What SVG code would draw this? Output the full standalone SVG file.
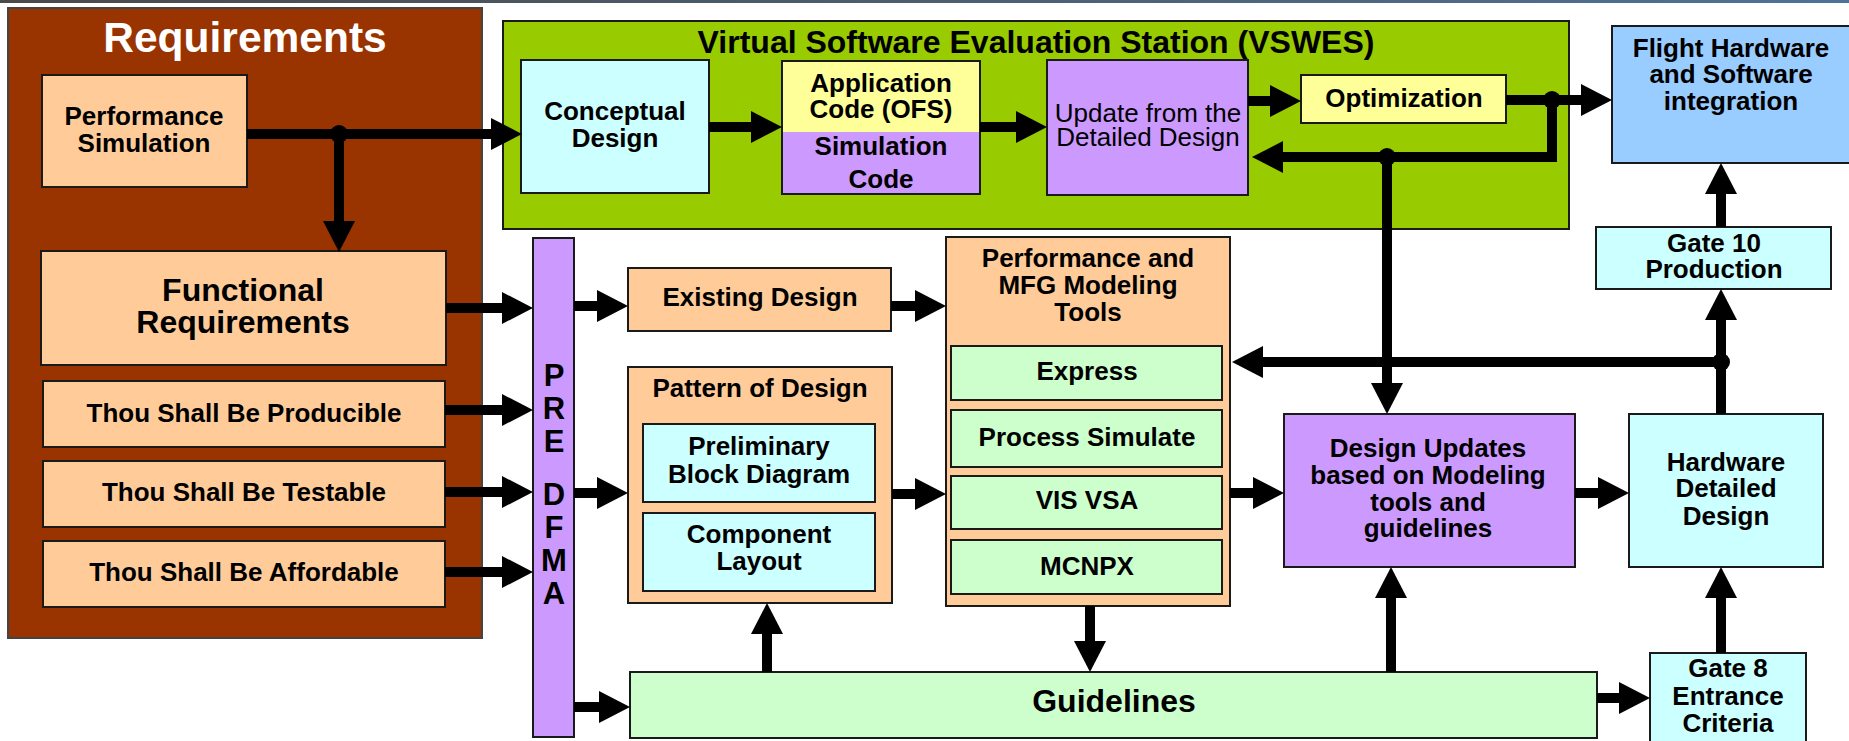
<svg xmlns="http://www.w3.org/2000/svg" width="1849" height="741" viewBox="0 0 1849 741">
<defs>
<linearGradient id="topbar" x1="0" y1="0" x2="1" y2="0">
<stop offset="0" stop-color="#4a4a4a"/><stop offset="1" stop-color="#4f7296"/>
</linearGradient>
<marker id="ah" markerUnits="userSpaceOnUse" markerWidth="31" markerHeight="32" refX="0" refY="16" orient="auto" viewBox="0 0 31 32">
<path d="M0,0 L31,16 L0,32 Z" fill="#000"/>
</marker>
<style>
.box{stroke:#1a1a1a;stroke-width:2}
.peach{fill:#ffcc99}.purple{fill:#cc99ff}.cyan{fill:#ccffff}.green{fill:#ccffcc}.yellow{fill:#ffff99}.blue{fill:#99ccff}
text{font-family:"Liberation Sans",Arial,Helvetica,sans-serif;font-weight:bold;fill:#000;text-anchor:middle}
.t26{font-size:26px}.t32{font-size:32px}
.reg{font-weight:normal}
.conn path{fill:none;stroke:#000;stroke-width:10;marker-end:url(#ah)}
.dot{fill:#000}
</style>
</defs>
<rect x="0" y="0" width="1849" height="741" fill="#ffffff"/>
<rect x="0" y="0" width="1849" height="3" fill="url(#topbar)"/>

<g id="requirements">
<rect x="8" y="8" width="474" height="630" fill="#993300" stroke="#444" stroke-width="2"/>
<text x="245" y="52" style="font-size:42.5px;fill:#ffffff">Requirements</text>
</g>
<g id="vswes">
<rect x="503" y="21" width="1066" height="208" fill="#99cc00" stroke="#1a1a1a" stroke-width="2"/>
<text x="1036" y="53" style="font-size:32px">Virtual Software Evaluation Station (VSWES)</text>
</g>
<g id="perf-sim">
<rect class="box peach" x="42" y="75" width="205" height="112"/>
<text class="t26" x="144" y="125">Performance</text>
<text class="t26" x="144" y="152">Simulation</text>
</g>
<g id="functional">
<rect class="box peach" x="41" y="251" width="405" height="114"/>
<text class="t32" x="243" y="301">Functional</text>
<text class="t32" x="243" y="333">Requirements</text>
</g>
<g id="producible">
<rect class="box peach" x="43" y="381" width="402" height="66"/>
<text class="t26" x="244" y="422">Thou Shall Be Producible</text>
</g>
<g id="testable">
<rect class="box peach" x="43" y="461" width="402" height="66"/>
<text class="t26" x="244" y="501">Thou Shall Be Testable</text>
</g>
<g id="affordable">
<rect class="box peach" x="43" y="541" width="402" height="66"/>
<text class="t26" x="244" y="581">Thou Shall Be Affordable</text>
</g>
<g id="pre-dfma">
<rect class="box purple" x="533" y="238" width="41" height="499"/>
<text x="554" y="386" style="font-size:31px">P</text>
<text x="554" y="419" style="font-size:31px">R</text>
<text x="554" y="452" style="font-size:31px">E</text>
<text x="554" y="505" style="font-size:31px">D</text>
<text x="554" y="538" style="font-size:31px">F</text>
<text x="554" y="571" style="font-size:31px">M</text>
<text x="554" y="604" style="font-size:31px">A</text>
</g>
<g id="conceptual">
<rect class="box cyan" x="521" y="60" width="188" height="133"/>
<text class="t26" x="615" y="120">Conceptual</text>
<text class="t26" x="615" y="147">Design</text>
</g>
<g id="app-sim-code">
<rect x="782" y="61" width="198" height="71" fill="#ffff99"/>
<rect x="782" y="132" width="198" height="62" fill="#cc99ff"/>
<rect x="782" y="61" width="198" height="133" fill="none" stroke="#1a1a1a" stroke-width="2"/>
<text class="t26" x="881" y="92">Application</text>
<text class="t26" x="881" y="118">Code (OFS)</text>
<text class="t26" x="881" y="155">Simulation</text>
<text class="t26" x="881" y="188">Code</text>
</g>
<g id="update-detailed">
<rect class="box purple" x="1047" y="60" width="201" height="135"/>
<text class="t26 reg" x="1148" y="122">Update from the</text>
<text class="t26 reg" x="1148" y="146">Detailed Design</text>
</g>
<g id="optimization">
<rect class="box yellow" x="1301" y="75" width="205" height="48"/>
<text class="t26" x="1404" y="107">Optimization</text>
</g>
<g id="flight">
<rect class="box blue" x="1612" y="26" width="240" height="137"/>
<text class="t26" x="1731" y="57">Flight Hardware</text>
<text class="t26" x="1731" y="83">and Software</text>
<text class="t26" x="1731" y="110">integration</text>
</g>
<g id="gate10">
<rect class="box cyan" x="1596" y="227" width="235" height="62"/>
<text class="t26" x="1714" y="252">Gate 10</text>
<text class="t26" x="1714" y="278">Production</text>
</g>
<g id="existing">
<rect class="box peach" x="628" y="268" width="263" height="63"/>
<text class="t26" x="760" y="306">Existing Design</text>
</g>
<g id="pattern">
<rect class="box peach" x="628" y="367" width="264" height="236"/>
<text class="t26" x="760" y="397">Pattern of Design</text>
</g>
<g id="preliminary">
<rect class="box cyan" x="643" y="424" width="232" height="78"/>
<text class="t26" x="759" y="455">Preliminary</text>
<text class="t26" x="759" y="483">Block Diagram</text>
</g>
<g id="component">
<rect class="box cyan" x="643" y="513" width="232" height="78"/>
<text class="t26" x="759" y="543">Component</text>
<text class="t26" x="759" y="570">Layout</text>
</g>
<g id="modeling-tools">
<rect class="box peach" x="946" y="237" width="284" height="369"/>
<text class="t26" x="1088" y="267">Performance and</text>
<text class="t26" x="1088" y="294">MFG Modeling</text>
<text class="t26" x="1088" y="321">Tools</text>
</g>
<g id="express">
<rect class="box green" x="951" y="346" width="271" height="54"/>
<text class="t26" x="1087" y="380">Express</text>
</g>
<g id="process-simulate">
<rect class="box green" x="951" y="410" width="271" height="57"/>
<text class="t26" x="1087" y="446">Process Simulate</text>
</g>
<g id="vis-vsa">
<rect class="box green" x="951" y="476" width="271" height="53"/>
<text class="t26" x="1087" y="509">VIS VSA</text>
</g>
<g id="mcnpx">
<rect class="box green" x="951" y="540" width="271" height="54"/>
<text class="t26" x="1087" y="575">MCNPX</text>
</g>
<g id="design-updates">
<rect class="box purple" x="1284" y="414" width="291" height="153"/>
<text class="t26" x="1428" y="457">Design Updates</text>
<text class="t26" x="1428" y="484">based on Modeling</text>
<text class="t26" x="1428" y="511">tools and</text>
<text class="t26" x="1428" y="537">guidelines</text>
</g>
<g id="hardware-detailed">
<rect class="box cyan" x="1629" y="414" width="194" height="153"/>
<text class="t26" x="1726" y="471">Hardware</text>
<text class="t26" x="1726" y="497">Detailed</text>
<text class="t26" x="1726" y="525">Design</text>
</g>
<g id="guidelines">
<rect class="box green" x="630" y="672" width="967" height="66"/>
<text class="t32" x="1114" y="712">Guidelines</text>
</g>
<g id="gate8">
<rect class="box cyan" x="1650" y="653" width="156" height="95"/>
<text class="t26" x="1728" y="677">Gate 8</text>
<text class="t26" x="1728" y="705">Entrance</text>
<text class="t26" x="1728" y="732">Criteria</text>
</g>

<g id="connectors" class="conn">
<path d="M247,134 H491"/>
<path d="M339,134 V221"/>
<path d="M446,308 H502"/>
<path d="M445,410 H502"/>
<path d="M445,492 H502"/>
<path d="M445,572 H502"/>
<path d="M574,306 H597"/>
<path d="M574,493 H597"/>
<path d="M574,707 H599"/>
<path d="M709,127 H751"/>
<path d="M980,127 H1016"/>
<path d="M1248,101 H1270"/>
<path d="M1506,100 H1581"/>
<path d="M1552,100 V157 H1283"/>
<path d="M1387,157 V383"/>
<path d="M891,306 H915"/>
<path d="M892,494 H915"/>
<path d="M1230,493 H1253"/>
<path d="M1575,493 H1598"/>
<path d="M1721,414 V320"/>
<path d="M1721,362 H1263"/>
<path d="M1721,227 V194"/>
<path d="M767,672 V634"/>
<path d="M1090,606 V641"/>
<path d="M1391,672 V598"/>
<path d="M1597,698 H1619"/>
<path d="M1721,653 V598"/>
<circle class="dot" cx="339" cy="134" r="9"/>
<circle class="dot" cx="1552" cy="100" r="9"/>
<circle class="dot" cx="1387" cy="157" r="9"/>
<circle class="dot" cx="1721" cy="362" r="9"/>
</g>
</svg>
